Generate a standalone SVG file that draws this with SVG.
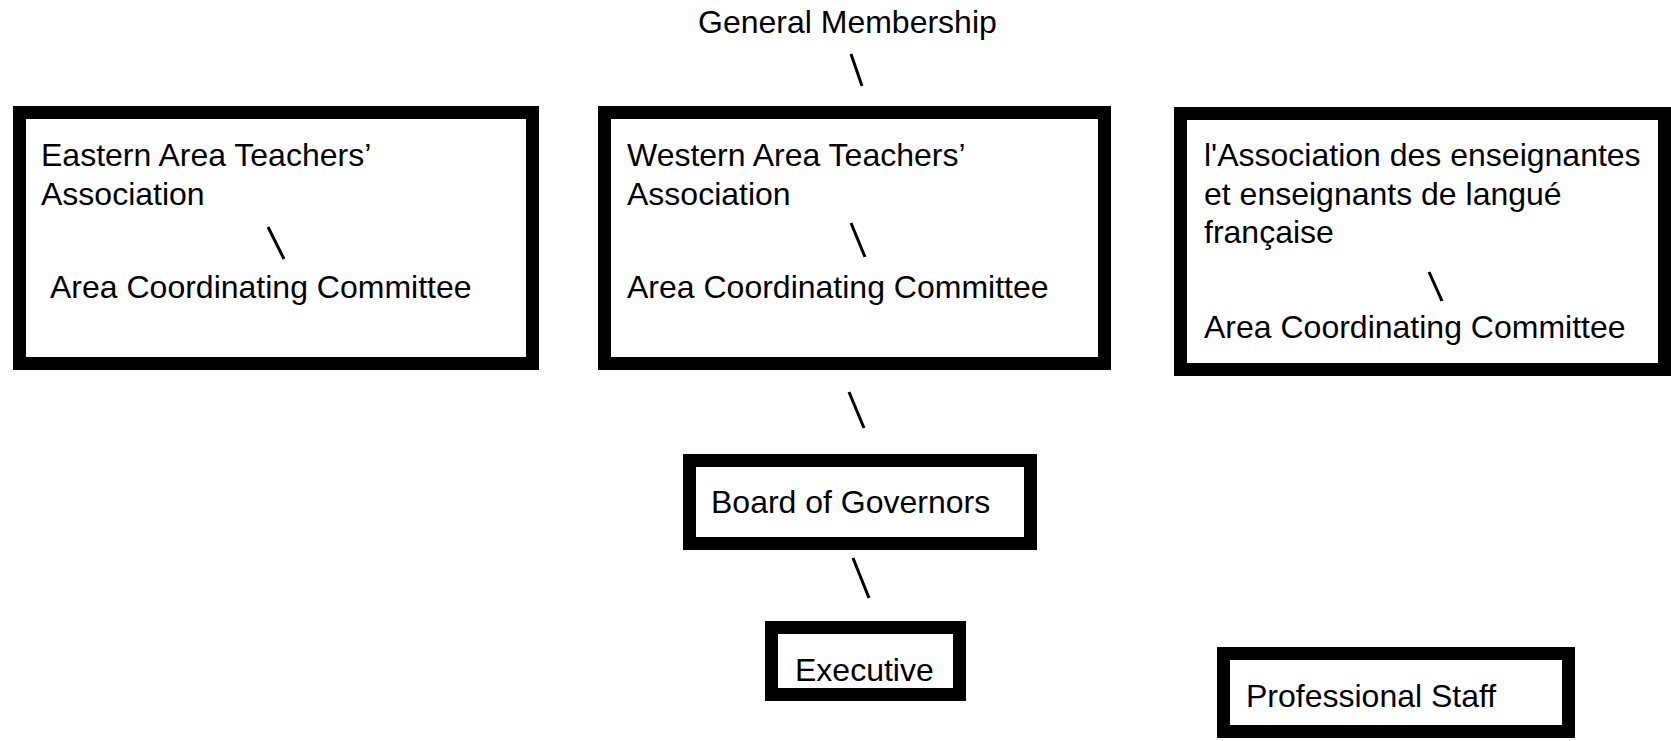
<svg xmlns="http://www.w3.org/2000/svg" width="1671" height="741" viewBox="0 0 1671 741">
<style>
.box{fill:#fff;stroke:#000;stroke-width:13}
.t{font-family:"Liberation Sans",Arial,sans-serif;font-size:32px;fill:#000}
.c{stroke:#000;stroke-width:3;fill:none}
</style>
<rect width="1671" height="741" fill="#fff"/>
<g id="general-membership">
<text class="t" x="698" y="33">General Membership</text>
</g>
<g id="eastern">
<rect class="box" x="19.5" y="112.5" width="513" height="251"/>
<text class="t" x="41" y="166">Eastern Area Teachers’</text>
<text class="t" x="41" y="205">Association</text>
<text class="t" x="50" y="298">Area Coordinating Committee</text>
</g>
<g id="western">
<rect class="box" x="604.5" y="112.5" width="500" height="251"/>
<text class="t" x="627" y="166">Western Area Teachers’</text>
<text class="t" x="627" y="205">Association</text>
<text class="t" x="627" y="298">Area Coordinating Committee</text>
</g>
<g id="french">
<rect class="box" x="1180.5" y="113.5" width="484" height="256"/>
<text class="t" x="1204" y="166">l'Association des enseignantes</text>
<text class="t" x="1204" y="205">et enseignants de langué</text>
<text class="t" x="1204" y="243">française</text>
<text class="t" x="1204" y="338">Area Coordinating Committee</text>
</g>
<g id="board">
<rect class="box" x="689.5" y="460.5" width="341" height="83"/>
<text class="t" x="711" y="513">Board of Governors</text>
</g>
<g id="executive">
<rect class="box" x="771.5" y="627.5" width="188" height="67"/>
<text class="t" x="795" y="681">Executive</text>
</g>
<g id="professional-staff">
<rect class="box" x="1223.5" y="653.5" width="345" height="78"/>
<text class="t" x="1246" y="707">Professional Staff</text>
</g>
<g id="connectors">
<line class="c" x1="851" y1="54" x2="862" y2="86"/>
<line class="c" x1="268" y1="227" x2="284" y2="259"/>
<line class="c" x1="851" y1="223" x2="865" y2="257"/>
<line class="c" x1="1429" y1="272" x2="1442" y2="301"/>
<line class="c" x1="849" y1="392" x2="864" y2="428"/>
<line class="c" x1="853" y1="558" x2="869" y2="598"/>
</g>
</svg>
